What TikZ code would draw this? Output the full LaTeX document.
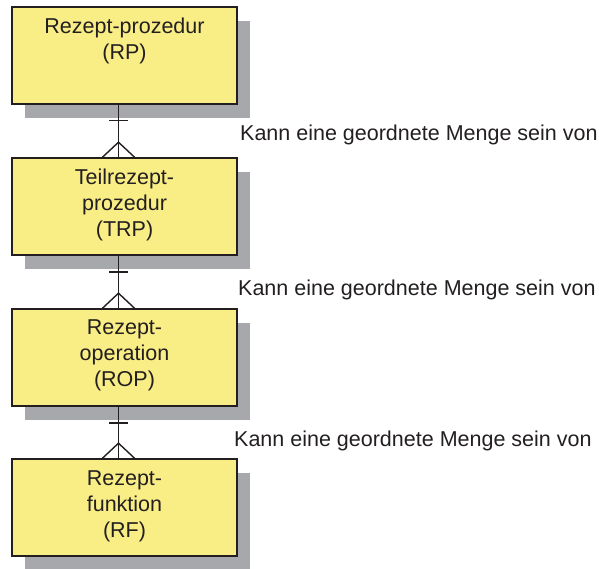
\documentclass[tikz,border=0pt]{standalone}
\usepackage{fontspec}
\setmainfont{Liberation Sans}
\usepackage{tikz}
\usetikzlibrary{shadows}

\definecolor{boxyellow}{RGB}{249,237,133}
\definecolor{boxshade}{RGB}{167,168,172}
\definecolor{ink}{RGB}{35,31,32}

\tikzset{
  box/.style={draw=ink,line width=1.6pt,fill=boxyellow,minimum width=225pt,minimum height=97pt,
    inner sep=0pt,drop shadow={shadow xshift=13pt,shadow yshift=-14pt,fill=boxshade,opacity=1}},
  boxtext/.style={anchor=north,align=center,text=ink,inner sep=0pt,
    font=\fontsize{21.5}{26}\selectfont},
  lbl/.style={anchor=base west,text=ink,inner sep=0pt,font=\fontsize{21.5}{26}\selectfont},
  rel/.style={draw=ink,line width=1.4pt}
}

\begin{document}
\begin{tikzpicture}[x=1pt,y=-1pt]
\useasboundingbox (0,0) rectangle (599,569);
% entities
\node[box] (rp) at (124.5,55.5) {};
\node[box] (trp) at (124.5,206.5) {};
\node[box] (rop) at (124.5,357.5) {};
\node[box] (rf) at (124.5,507.5) {};
\node[boxtext] (rpt) at ([yshift=-11.5pt]rp.north) {Rezept-prozedur\\(RP)};
\node[boxtext] (trpt) at ([yshift=-11.5pt]trp.north) {Teilrezept-\\prozedur\\(TRP)};
\node[boxtext] (ropt) at ([yshift=-11.5pt]rop.north) {Rezept-\\operation\\(ROP)};
\node[boxtext] (rft) at ([yshift=-12.5pt]rf.north) {Rezept-\\funktion\\(RF)};
% relations: one to many
\foreach \a/\b in {rp/trp,trp/rop,rop/rf}{
  \draw[rel] ([xshift=-6pt]\a.south) -- ([xshift=-6pt]\b.north);
  \draw[rel] ([xshift=-15.5pt,yshift=-16pt]\a.south) -- ++(19,0);
  \draw[rel] ([xshift=-22pt]\b.north) -- ([xshift=-6pt,yshift=15pt]\b.north) -- ([xshift=10pt]\b.north);
}
\node[lbl] (l1) at (240,141) {Kann eine geordnete Menge sein von};
\node[lbl] (l2) at (238,295) {Kann eine geordnete Menge sein von};
\node[lbl] (l3) at (234,446) {Kann eine geordnete Menge sein von};
\end{tikzpicture}
\end{document}
